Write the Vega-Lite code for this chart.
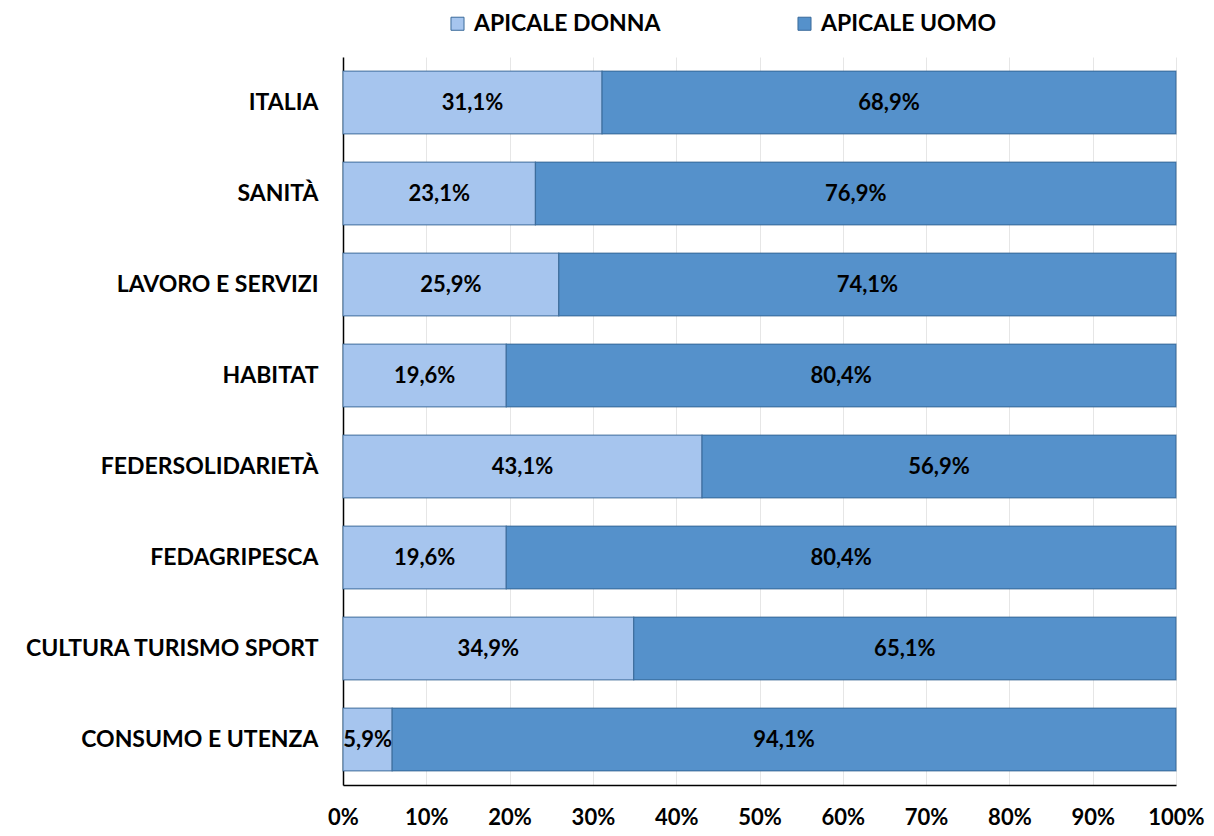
{
  "$schema": "https://vega.github.io/schema/vega-lite/v6.json",
  "width": 833,
  "height": 728,
  "autosize": {"type": "none"},
  "padding": {"left": 343, "top": 57, "right": 38, "bottom": 51},
  "background": "white",
  "data": {"values": [
    {"settore": "ITALIA", "genere": "APICALE DONNA", "ord": 1, "val": 31.1, "lab": "31,1%"},
    {"settore": "ITALIA", "genere": "APICALE UOMO", "ord": 2, "val": 68.9, "lab": "68,9%"},
    {"settore": "SANITÀ", "genere": "APICALE DONNA", "ord": 1, "val": 23.1, "lab": "23,1%"},
    {"settore": "SANITÀ", "genere": "APICALE UOMO", "ord": 2, "val": 76.9, "lab": "76,9%"},
    {"settore": "LAVORO E SERVIZI", "genere": "APICALE DONNA", "ord": 1, "val": 25.9, "lab": "25,9%"},
    {"settore": "LAVORO E SERVIZI", "genere": "APICALE UOMO", "ord": 2, "val": 74.1, "lab": "74,1%"},
    {"settore": "HABITAT", "genere": "APICALE DONNA", "ord": 1, "val": 19.6, "lab": "19,6%"},
    {"settore": "HABITAT", "genere": "APICALE UOMO", "ord": 2, "val": 80.4, "lab": "80,4%"},
    {"settore": "FEDERSOLIDARIETÀ", "genere": "APICALE DONNA", "ord": 1, "val": 43.1, "lab": "43,1%"},
    {"settore": "FEDERSOLIDARIETÀ", "genere": "APICALE UOMO", "ord": 2, "val": 56.9, "lab": "56,9%"},
    {"settore": "FEDAGRIPESCA", "genere": "APICALE DONNA", "ord": 1, "val": 19.6, "lab": "19,6%"},
    {"settore": "FEDAGRIPESCA", "genere": "APICALE UOMO", "ord": 2, "val": 80.4, "lab": "80,4%"},
    {"settore": "CULTURA TURISMO SPORT", "genere": "APICALE DONNA", "ord": 1, "val": 34.9, "lab": "34,9%"},
    {"settore": "CULTURA TURISMO SPORT", "genere": "APICALE UOMO", "ord": 2, "val": 65.1, "lab": "65,1%"},
    {"settore": "CONSUMO E UTENZA", "genere": "APICALE DONNA", "ord": 1, "val": 5.9, "lab": "5,9%"},
    {"settore": "CONSUMO E UTENZA", "genere": "APICALE UOMO", "ord": 2, "val": 94.1, "lab": "94,1%"}
  ]},
  "config": {
    "font": "Lato",
    "view": {"stroke": null}
  },
  "encoding": {
    "y": {
      "field": "settore", "type": "nominal", "sort": null, "title": null,
      "scale": {"paddingInner": 0.31, "paddingOuter": 0.155},
      "axis": {
        "domain": true, "domainColor": "#000000", "domainWidth": 1.5,
        "ticks": false, "labelPadding": 25, "labelLimit": 400,
        "labelFont": "Lato", "labelFontWeight": "bold", "labelFontSize": 23, "labelColor": "#000000"
      }
    }
  },
  "layer": [
    {
      "mark": {"type": "bar", "stroke": "#2f5f8f", "strokeWidth": 1.2, "strokeOpacity": 0.7},
      "encoding": {
        "x": {
          "field": "val", "type": "quantitative", "stack": "zero", "title": null,
          "scale": {"domain": [0, 100], "nice": false},
          "axis": {
            "values": [0, 10, 20, 30, 40, 50, 60, 70, 80, 90, 100],
            "labelExpr": "datum.value + '%'",
            "grid": true, "gridColor": "#e6e6e6", "gridWidth": 1,
            "domain": true, "domainColor": "#000000", "domainWidth": 1.5,
            "ticks": false, "labelPadding": 22,
            "labelFont": "Lato", "labelFontWeight": "bold", "labelFontSize": 22, "labelColor": "#000000",
            "labelFlush": false
          }
        },
        "color": {
          "field": "genere", "type": "nominal", "title": null,
          "scale": {"domain": ["APICALE DONNA", "APICALE UOMO"], "range": ["#a6c5ee", "#5591cb"]},
          "legend": {
            "orient": "none", "legendX": 103, "legendY": -45, "direction": "horizontal",
            "columns": 2, "columnPadding": 132,
            "symbolType": "square", "symbolSize": 170, "symbolStrokeColor": "#3a6a9a", "symbolStrokeWidth": 1,
            "labelFont": "Lato", "labelFontWeight": "bold", "labelFontSize": 23, "labelColor": "#000000",
            "labelOffset": 5, "labelLimit": 300
          }
        },
        "order": {"field": "ord", "type": "quantitative"}
      }
    },
    {
      "mark": {"type": "text", "font": "Lato", "fontWeight": "bold", "fontSize": 22, "color": "#000000", "align": "center", "baseline": "middle"},
      "encoding": {
        "x": {"field": "val", "type": "quantitative", "stack": "zero", "bandPosition": 0.5},
        "text": {"field": "lab", "type": "nominal"},
        "detail": {"field": "genere", "type": "nominal"},
        "order": {"field": "ord", "type": "quantitative"}
      }
    }
  ]
}
